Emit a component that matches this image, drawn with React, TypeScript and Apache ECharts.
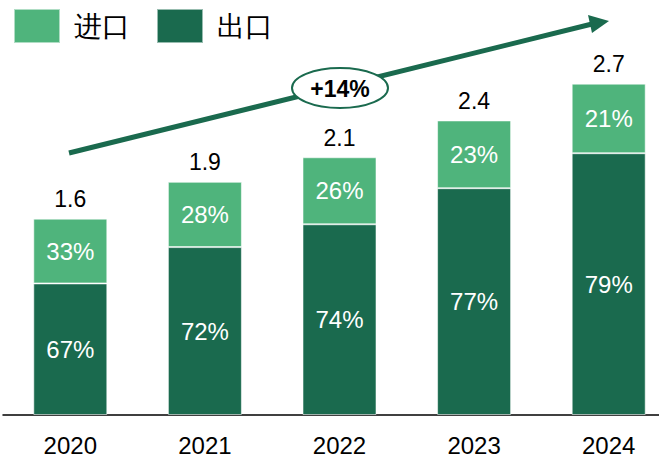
import React, { useEffect, useRef } from "react";
import * as echarts from "echarts";

const years = ["2020", "2021", "2022", "2023", "2024"];
const totals = [1.6, 1.9, 2.1, 2.4, 2.7];
const exportPct = [67, 72, 74, 77, 79];
const importPct = [33, 28, 26, 23, 21];
const growthLabel = "+14%";

const LIGHT = "#4fb47c";
const DARK = "#1a6a4e";

export default function App() {
  const ref = useRef<HTMLDivElement>(null);
  useEffect(() => {
    if (!ref.current) return;
    const chart = echarts.init(ref.current, null, { renderer: "svg" });
    const exportVals = totals.map((t, i) => +(t * exportPct[i] / 100).toFixed(4));
    const importVals = totals.map((t, i) => +(t * importPct[i] / 100).toFixed(4));
    const font = "'Liberation Sans', Arial, sans-serif";
    chart.setOption({
      animation: false,
      grid: { left: 3, right: 0, top: 10, bottom: 40 },
      legend: {
        data: ["进口", "出口"],
        left: 8,
        top: 3,
        itemWidth: 46,
        itemHeight: 34,
        itemGap: 26,
        icon: "rect",
        textStyle: {
          fontSize: 28,
          color: "#000",
          fontFamily: "serif",
          padding: [0, 0, 0, 9],
        },
      },
      xAxis: {
        type: "category",
        data: years,
        axisLine: { lineStyle: { color: "#000", width: 1.5 } },
        axisTick: { show: false },
        axisLabel: { fontSize: 24, color: "#000", fontFamily: font, margin: 18 },
      },
      yAxis: {
        type: "value",
        min: 0,
        max: 3.3,
        show: false,
        splitLine: { show: false },
      },
      series: [
        {
          name: "出口",
          type: "bar",
          stack: "a",
          barWidth: 74,
          data: exportVals,
          itemStyle: { color: DARK, borderColor: "rgba(255,255,255,0.55)", borderWidth: 1 },
          label: {
            show: true,
            position: "inside",
            color: "#fff",
            fontSize: 24,
            fontFamily: font,
            formatter: (p: any) => exportPct[p.dataIndex] + "%",
          },
        },
        {
          name: "进口",
          type: "bar",
          stack: "a",
          barWidth: 74,
          data: importVals,
          itemStyle: { color: LIGHT, borderColor: "rgba(255,255,255,0.55)", borderWidth: 1 },
          label: {
            show: true,
            position: "inside",
            color: "#fff",
            fontSize: 24,
            fontFamily: font,
            formatter: (p: any) => importPct[p.dataIndex] + "%",
          },
        },
        {
          name: "total",
          type: "bar",
          barWidth: 74,
          barGap: "-100%",
          z: 1,
          data: totals,
          itemStyle: { color: "rgba(0,0,0,0)" },
          label: {
            show: true,
            position: "top",
            distance: 8,
            color: "#000",
            fontSize: 23,
            fontFamily: font,
            formatter: (p: any) => totals[p.dataIndex].toFixed(1),
          },
        },
      ],
      graphic: [
        {
          type: "line",
          shape: { x1: 69, y1: 153, x2: 592, y2: 24 },
          style: { stroke: DARK, lineWidth: 5 },
        },
        {
          type: "polygon",
          shape: { points: [[609, 21], [588, 15], [592, 33]] },
          style: { fill: DARK },
        },
        {
          type: "ellipse",
          shape: { cx: 340, cy: 88, rx: 48, ry: 20 },
          style: { fill: "#fff", stroke: DARK, lineWidth: 2 },
        },
        {
          type: "text",
          x: 340,
          y: 89,
          style: {
            text: growthLabel,
            fill: "#000",
            font: "bold 23px 'Liberation Sans', Arial, sans-serif",
            align: "center",
            verticalAlign: "middle",
          },
        },
      ],
    });
    return () => chart.dispose();
  }, []);
  return (
    <div
      style={{ position: "fixed", left: 0, top: 0, width: 659, height: 457, overflow: "hidden", background: "#fff" }}
    >
      <div ref={ref} style={{ width: 676, height: 457 }} />
    </div>
  );
}
